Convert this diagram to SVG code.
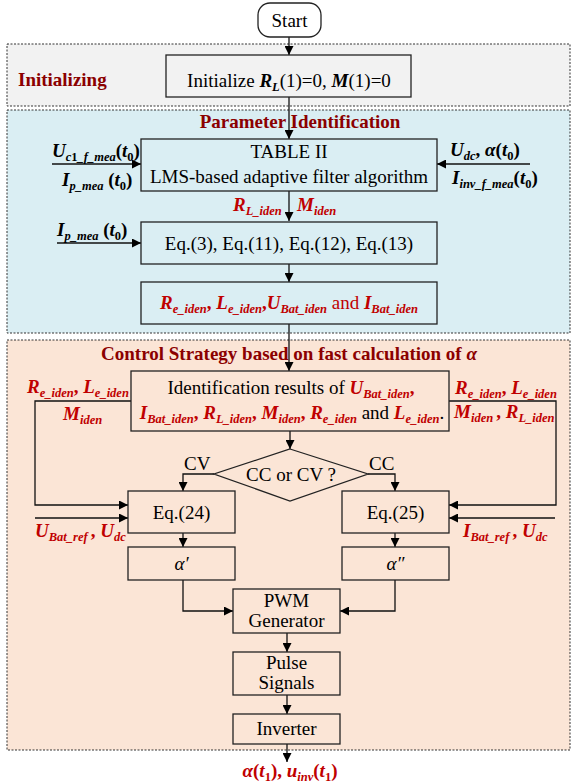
<svg xmlns="http://www.w3.org/2000/svg" width="572" height="784" viewBox="0 0 572 784">
<style>
text{font-family:"Liberation Serif","Times New Roman",serif;font-size:19px;fill:#000}
.c{text-anchor:middle}
.ttl{font-weight:bold;fill:#8b0000}
.v{font-weight:bold;font-style:italic;fill:#c00000}
.k{font-weight:bold;font-style:italic;fill:#000}
.kb{font-weight:bold;fill:#000}
.rb{font-weight:bold;fill:#c00000}
.s{font-size:12.5px}
.box{fill:none;stroke:#222;stroke-width:1.3}
.reg{stroke:#333;stroke-width:1;stroke-dasharray:2 1.5}
.ln{fill:none;stroke:#111;stroke-width:1.3}
</style>
<defs>
<marker id="ah" viewBox="0 0 10 10" refX="10" refY="5" markerWidth="9" markerHeight="9" markerUnits="userSpaceOnUse" orient="auto">
<path d="M0,0 L10,5 L0,10 z" fill="#000"/>
</marker>
</defs>

<g id="regions">
<rect class="reg" x="7" y="44" width="563" height="62" fill="#f2f2f2"/>
<rect class="reg" x="7" y="110" width="563" height="223" fill="#daeef3"/>
<rect class="reg" x="7" y="340" width="563" height="410" fill="#fbe5d6"/>
<text class="ttl" x="18" y="86">Initializing</text>
<text class="ttl c" x="300" y="128">Parameter Identification</text>
<text class="ttl c" x="289" y="360">Control Strategy based on fast calculation of <tspan font-style="italic">α</tspan></text>
</g>

<g id="connectors">
<line class="ln" x1="289" y1="37" x2="289" y2="55" marker-end="url(#ah)"/>
<line class="ln" x1="289" y1="97" x2="289" y2="139" marker-end="url(#ah)"/>
<line class="ln" x1="52" y1="164" x2="141" y2="164" marker-end="url(#ah)"/>
<line class="ln" x1="530" y1="164" x2="437" y2="164" marker-end="url(#ah)"/>
<line class="ln" x1="289" y1="191" x2="289" y2="221" marker-end="url(#ah)"/>
<line class="ln" x1="57" y1="243" x2="141" y2="243" marker-end="url(#ah)"/>
<line class="ln" x1="289" y1="264" x2="289" y2="282" marker-end="url(#ah)"/>
<line class="ln" x1="289" y1="324" x2="289" y2="371" marker-end="url(#ah)"/>
<line class="ln" x1="290" y1="431" x2="290" y2="449" marker-end="url(#ah)"/>
<polyline class="ln" points="214,474 183,474 183,491" marker-end="url(#ah)"/>
<polyline class="ln" points="368,474 395,474 395,491" marker-end="url(#ah)"/>
<polyline class="ln" points="131,401 35,401 35,505 128,505" marker-end="url(#ah)"/>
<line class="ln" x1="35" y1="518" x2="128" y2="518" marker-end="url(#ah)"/>
<polyline class="ln" points="449,401 556,401 556,505 449,505" marker-end="url(#ah)"/>
<line class="ln" x1="555" y1="518" x2="449" y2="518" marker-end="url(#ah)"/>
<line class="ln" x1="183" y1="533" x2="183" y2="547" marker-end="url(#ah)"/>
<line class="ln" x1="395" y1="533" x2="395" y2="547" marker-end="url(#ah)"/>
<polyline class="ln" points="183,580 183,611 233,611" marker-end="url(#ah)"/>
<polyline class="ln" points="395,580 395,611 340,611" marker-end="url(#ah)"/>
<line class="ln" x1="287" y1="633" x2="287" y2="652" marker-end="url(#ah)"/>
<line class="ln" x1="287" y1="695" x2="287" y2="714" marker-end="url(#ah)"/>
<line class="ln" x1="287" y1="744" x2="287" y2="762" marker-end="url(#ah)"/>
</g>

<g id="start">
<rect x="258" y="3" width="63" height="34" rx="12" fill="#fff" stroke="#222" stroke-width="1.3"/>
<text class="c" x="289.5" y="27">Start</text>
</g>

<g id="init">
<rect class="box" x="166" y="55" width="245" height="42"/>
<text class="c" x="289" y="87">Initialize <tspan class="k">R</tspan><tspan class="k s" dy="4">L</tspan><tspan dy="-4">(1)=0, </tspan><tspan class="k">M</tspan>(1)=0</text>
</g>

<g id="lms">
<rect class="box" x="141" y="139" width="296" height="52"/>
<text class="c" x="289" y="158">TABLE II</text>
<text class="c" x="289" y="183">LMS-based adaptive filter algorithm</text>
</g>

<g id="in-left">
<text x="52" y="157"><tspan class="k">U</tspan><tspan class="k s" dy="4">c</tspan><tspan class="kb s">1</tspan><tspan class="k s">_f_mea</tspan><tspan class="kb" dy="-4">(</tspan><tspan class="k">t</tspan><tspan class="kb s" dy="4">0</tspan><tspan class="kb" dy="-4">)</tspan></text>
<text x="62" y="186"><tspan class="k">I</tspan><tspan class="k s" dy="4">p_mea</tspan><tspan class="kb" dy="-4"> (</tspan><tspan class="k">t</tspan><tspan class="kb s" dy="4">0</tspan><tspan class="kb" dy="-4">)</tspan></text>
</g>

<g id="in-right">
<text x="450" y="156"><tspan class="k">U</tspan><tspan class="k s" dy="4">dc</tspan><tspan class="kb" dy="-4">,  </tspan><tspan class="k">α</tspan><tspan class="kb">(</tspan><tspan class="k">t</tspan><tspan class="kb s" dy="4">0</tspan><tspan class="kb" dy="-4">)</tspan></text>
<text x="452" y="184"><tspan class="k">I</tspan><tspan class="k s" dy="4">inv_f_mea</tspan><tspan class="kb" dy="-4">(</tspan><tspan class="k">t</tspan><tspan class="kb s" dy="4">0</tspan><tspan class="kb" dy="-4">)</tspan></text>
</g>

<g id="lms-out">
<text x="233" y="211"><tspan class="v">R</tspan><tspan class="v s" dy="4">L_iden</tspan></text>
<text x="297" y="211"><tspan class="v">M</tspan><tspan class="v s" dy="4">iden</tspan></text>
</g>

<g id="eq-ident">
<rect class="box" x="141" y="222" width="296" height="42"/>
<text class="c" x="289" y="250">Eq.(3), Eq.(11), Eq.(12), Eq.(13)</text>
<text x="57" y="236"><tspan class="k">I</tspan><tspan class="k s" dy="4">p_mea</tspan><tspan class="kb" dy="-4"> (</tspan><tspan class="k">t</tspan><tspan class="kb s" dy="4">0</tspan><tspan class="kb" dy="-4">)</tspan></text>
</g>

<g id="ident-result">
<rect class="box" x="141" y="282" width="296" height="42"/>
<text class="c" x="289" y="309"><tspan class="v">R</tspan><tspan class="v s" dy="4">e_iden</tspan><tspan class="rb" dy="-4">, </tspan><tspan class="v">L</tspan><tspan class="v s" dy="4">e_iden</tspan><tspan class="rb" dy="-4">,</tspan><tspan class="v">U</tspan><tspan class="v s" dy="4">Bat_iden</tspan><tspan dy="-4" fill="#c00000"> and </tspan><tspan class="v">I</tspan><tspan class="v s" dy="4">Bat_iden</tspan></text>
</g>

<g id="ident-all">
<rect class="box" x="131" y="371" width="318" height="60"/>
<text class="c" x="291" y="394">Identification results of <tspan class="v">U</tspan><tspan class="v s" dy="4">Bat_iden</tspan><tspan class="rb" dy="-4">,</tspan></text>
<text class="c" x="292" y="419"><tspan class="v">I</tspan><tspan class="v s" dy="4">Bat_iden</tspan><tspan class="rb" dy="-4">, </tspan><tspan class="v">R</tspan><tspan class="v s" dy="4">L_iden</tspan><tspan class="rb" dy="-4">, </tspan><tspan class="v">M</tspan><tspan class="v s" dy="4">iden</tspan><tspan class="rb" dy="-4">, </tspan><tspan class="v">R</tspan><tspan class="v s" dy="4">e_iden</tspan><tspan dy="-4"> and </tspan><tspan class="v">L</tspan><tspan class="v s" dy="4">e_iden</tspan><tspan dy="-4">.</tspan></text>
</g>

<g id="labels-left">
<text x="27" y="393"><tspan class="v">R</tspan><tspan class="v s" dy="4">e_iden</tspan><tspan class="rb" dy="-4">, </tspan><tspan class="v">L</tspan><tspan class="v s" dy="4">e_iden</tspan></text>
<text x="63" y="420"><tspan class="v">M</tspan><tspan class="v s" dy="4">iden</tspan></text>
<text x="35" y="537"><tspan class="v">U</tspan><tspan class="v s" dy="4">Bat_ref </tspan><tspan class="rb" dy="-4">, </tspan><tspan class="v">U</tspan><tspan class="v s" dy="4">dc</tspan></text>
</g>

<g id="labels-right">
<text x="455" y="394"><tspan class="v">R</tspan><tspan class="v s" dy="4">e_iden</tspan><tspan class="rb" dy="-4">, </tspan><tspan class="v">L</tspan><tspan class="v s" dy="4">e_iden</tspan></text>
<text x="454" y="418"><tspan class="v">M</tspan><tspan class="v s" dy="4">iden </tspan><tspan class="rb" dy="-4">, </tspan><tspan class="v">R</tspan><tspan class="v s" dy="4">L_iden</tspan></text>
<text x="463" y="537"><tspan class="v">I</tspan><tspan class="v s" dy="4">Bat_ref </tspan><tspan class="rb" dy="-4">, </tspan><tspan class="v">U</tspan><tspan class="v s" dy="4">dc</tspan></text>
</g>

<g id="decision">
<polygon points="290,449 368,474 290,501 214,474" fill="none" stroke="#222" stroke-width="1.3"/>
<text class="c" x="291" y="481">CC or CV ?</text>
<text x="184" y="470">CV</text>
<text x="369" y="470">CC</text>
</g>

<g id="eq24">
<rect class="box" x="128" y="491" width="107" height="42"/>
<text class="c" x="181.5" y="519">Eq.(24)</text>
</g>
<g id="eq25">
<rect class="box" x="342" y="491" width="107" height="42"/>
<text class="c" x="395.5" y="519">Eq.(25)</text>
</g>
<g id="alpha1">
<rect class="box" x="128" y="547" width="107" height="33"/>
<text class="c" x="181.5" y="570" font-style="italic">α′</text>
</g>
<g id="alpha2">
<rect class="box" x="342" y="547" width="107" height="33"/>
<text class="c" x="395.5" y="570" font-style="italic">α″</text>
</g>

<g id="pwm">
<rect class="box" x="233" y="589" width="107" height="44"/>
<text class="c" x="286.5" y="607">PWM</text>
<text class="c" x="286.5" y="627">Generator</text>
</g>
<g id="pulse">
<rect class="box" x="233" y="652" width="107" height="43"/>
<text class="c" x="286.5" y="669">Pulse</text>
<text class="c" x="286.5" y="689">Signals</text>
</g>
<g id="inverter">
<rect class="box" x="233" y="714" width="107" height="30"/>
<text class="c" x="286.5" y="735">Inverter</text>
</g>

<g id="output">
<text class="c" x="290" y="777"><tspan class="v">α</tspan><tspan class="rb">(</tspan><tspan class="v">t</tspan><tspan class="rb s" dy="4">1</tspan><tspan class="rb" dy="-4">), </tspan><tspan class="v">u</tspan><tspan class="v s" dy="4">inv</tspan><tspan class="rb" dy="-4">(</tspan><tspan class="v">t</tspan><tspan class="rb s" dy="4">1</tspan><tspan class="rb" dy="-4">)</tspan></text>
</g>
</svg>
